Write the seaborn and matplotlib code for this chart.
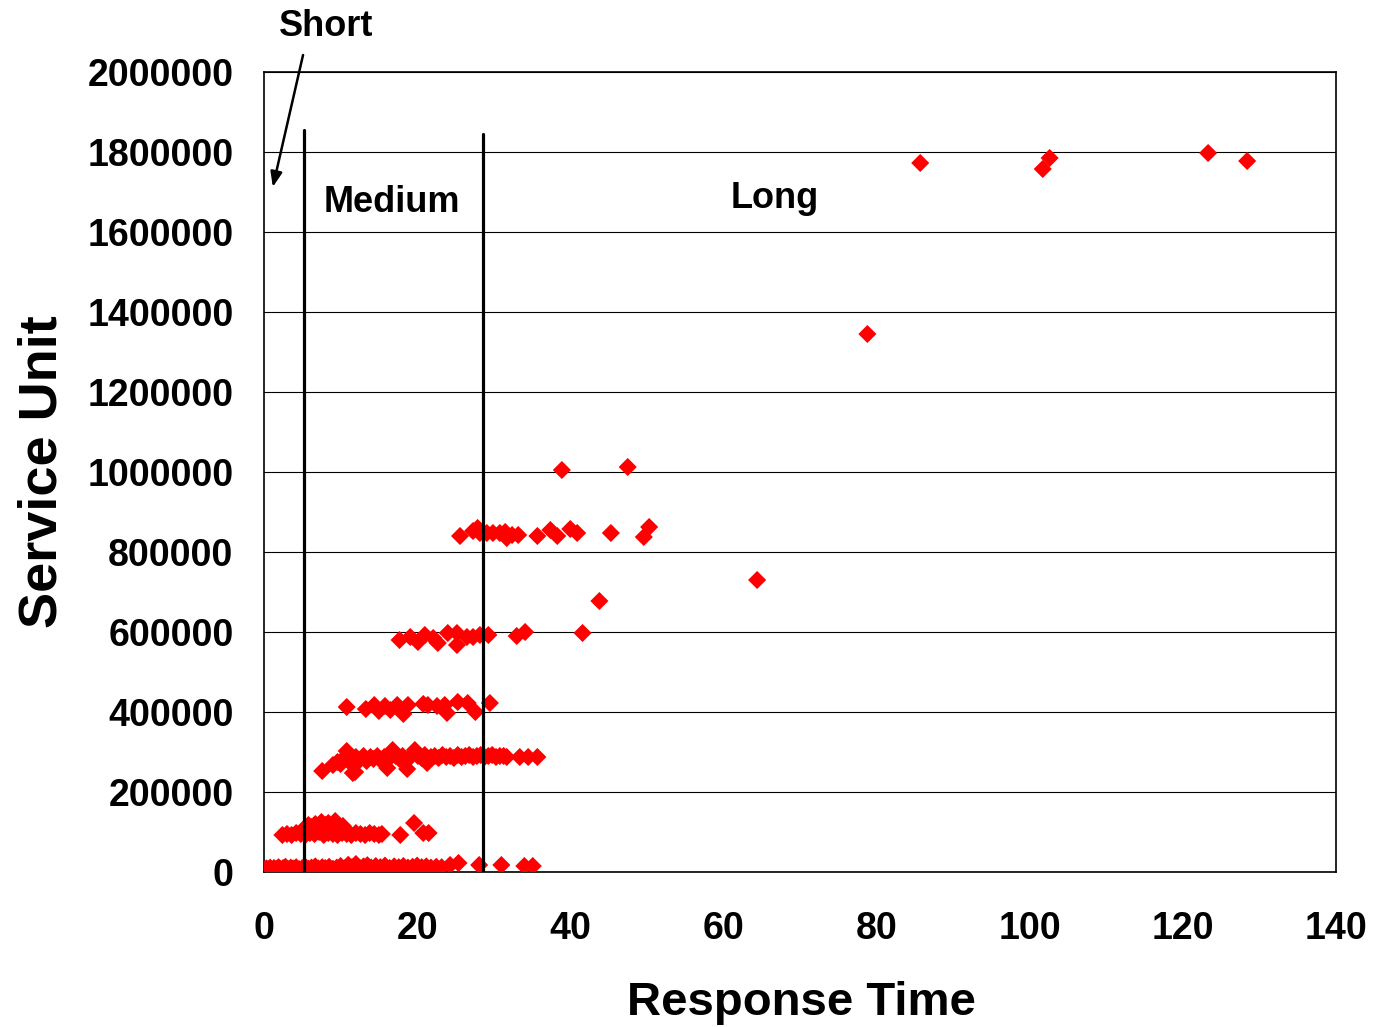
import matplotlib
matplotlib.use("Agg")
import matplotlib.pyplot as plt
import seaborn as sns
import pandas as pd

# ---------------- data ----------------
# band near zero service units
short_x = [0.0, 0.1, 0.2, 0.3, 0.5, 0.8, 1.0, 1.3, 1.6, 1.9, 2.2, 2.5, 2.8, 3.1, 3.5, 3.8,
           4.2, 4.6, 5.0, 5.4, 5.8, 6.2, 6.7, 7.1, 7.6, 8.0, 8.5, 9.0, 9.5, 10.0, 10.5,
           11.0, 11.5, 12.0, 12.5, 13.0, 13.5, 14.0, 14.6, 15.2, 15.8, 16.4, 17.0, 17.6,
           18.2, 18.8, 19.4, 20.0, 20.6, 21.2, 21.8, 22.5, 23.2, 24.3, 25.4, 28.1, 31.0,
           34.0, 35.1]
short_y = [2000, 6000, 4000, 9000, 7000, 11000, 6000, 10000, 8000, 12000, 7000, 10000,
           13000, 8000, 11000, 9000, 12000, 7000, 10000, 13000, 8000, 11000, 14000, 9000,
           12000, 10000, 13000, 8000, 11000, 15000, 9000, 18000, 12000, 20000, 10000,
           14000, 17000, 11000, 15000, 12000, 16000, 10000, 14000, 12000, 15000, 11000,
           13000, 16000, 12000, 14000, 11000, 13000, 12000, 17500, 22500, 17500, 17500,
           15000, 15000]

# band near 100000
mid_x = [2.4, 3.0, 3.6, 4.2, 4.8, 5.4, 6.0, 6.6, 7.2, 7.8, 8.4, 9.0, 9.6, 10.2, 10.8,
         11.4, 12.0, 12.6, 13.2, 13.8, 14.4, 15.0, 15.4,
         5.3, 5.8, 6.2, 6.7, 7.1, 7.5, 8.0, 8.4, 8.9, 9.3, 9.8, 10.3,
         17.8, 19.6, 20.8, 21.5]
mid_y = [92500, 95000, 92500, 97500, 95000, 92500, 97500, 95000, 100000, 92500, 97500,
         95000, 92500, 97500, 95000, 92500, 97500, 95000, 92500, 97500, 95000, 92500, 95000,
         110000, 117500, 112500, 120000, 115000, 125000, 117500, 122500, 112500, 127500,
         107500, 115000,
         92500, 122500, 97500, 97500]

# band near 285000
b3_x = [7.6, 9.0, 9.6, 10.0, 10.2, 10.8, 10.8, 11.3, 11.6, 11.9, 12.0, 12.5, 13.0, 13.4,
        13.9, 14.3, 14.8, 15.2, 15.7, 16.1, 16.4, 16.8, 17.2, 17.7, 18.1, 18.7, 19.0,
        19.7, 20.1, 20.6, 21.0, 21.3, 21.8, 22.3, 22.8, 23.3, 23.8, 24.3, 24.8, 25.3,
        25.8, 26.3, 26.8, 27.3, 27.8, 28.3, 28.8, 29.3, 29.8, 30.3, 30.8, 31.3, 31.7,
        33.4, 34.5, 35.7]
b3_y = [252500, 267500, 275000, 270000, 280000, 302500, 285000, 272500, 247500, 250000,
        287500, 280000, 290000, 277500, 287500, 282500, 290000, 280000, 287500, 260000,
        285000, 305000, 290000, 282500, 290000, 257500, 285000, 305000, 290000, 285000,
        292500, 272500, 287500, 290000, 285000, 292500, 287500, 290000, 285000, 292500,
        287500, 290000, 292500, 287500, 290000, 292500, 287500, 290000, 292500, 287500,
        290000, 290000, 287500, 287500, 287500, 287500]

# band near 410000
b4_x = [10.8, 13.3, 14.4, 15.0, 15.8, 16.5, 17.4, 18.2, 18.8, 20.8, 21.4, 22.6, 23.6,
        23.9, 25.3, 26.6, 27.6, 29.5]
b4_y = [412500, 407500, 417500, 402500, 415000, 405000, 417500, 395000, 417500, 420000,
        417500, 415000, 417500, 397500, 425000, 422500, 400000, 422500]

# band near 590000
b5_x = [17.7, 19.1, 20.1, 21.0, 22.1, 22.7, 24.0, 25.2, 25.2, 26.5, 27.3, 28.2, 29.3,
        33.0, 34.1, 41.6]
b5_y = [580000, 587500, 575000, 592500, 585000, 572500, 597500, 567500, 597500, 587500,
        587500, 592500, 592500, 590000, 600000, 597500]

# band near 850000
b6_x = [25.6, 27.3, 27.9, 28.2, 29.1, 29.9, 30.8, 31.5, 31.7, 32.4, 33.2, 35.7, 37.4,
        38.3, 40.0, 40.9, 45.3, 49.6, 50.3]
b6_y = [840000, 852500, 860000, 847500, 847500, 847500, 847500, 850000, 835000, 842500,
        842500, 840000, 855000, 840000, 857500, 847500, 847500, 837500, 862500]

# scattered long jobs
long_x = [38.9, 47.5, 43.8, 64.4, 78.8, 85.7, 101.7, 102.6, 123.3, 128.4]
long_y = [1005000, 1012500, 677500, 730000, 1345000, 1772500, 1757500, 1785000,
          1797500, 1777500]

# class boundaries and labels
short_boundary = 5.2
medium_boundary = 28.6
xticks = [0, 20, 40, 60, 80, 100, 120, 140]
yticks = [0, 200000, 400000, 600000, 800000, 1000000, 1200000, 1400000,
          1600000, 1800000, 2000000]
ytick_labels = ["0", "200000", "400000", "600000", "800000", "1000000", "1200000",
                "1400000", "1600000", "1800000", "2000000"]

# ---------------- plot ----------------
sns.set_style("white")
plt.rcParams["font.family"] = ["Liberation Sans", "DejaVu Sans"]
plt.rcParams["font.weight"] = "bold"
plt.rcParams["text.color"] = "black"

df = pd.DataFrame({
    "Response Time": short_x + mid_x + b3_x + b4_x + b5_x + b6_x + long_x,
    "Service Unit": short_y + mid_y + b3_y + b4_y + b5_y + b6_y + long_y,
})

fig = plt.figure(figsize=(13.74, 10.27), dpi=100)
ax = fig.add_axes([264 / 1374, 1 - 872 / 1027, 1072 / 1374, 800 / 1027])

sns.scatterplot(data=df, x="Response Time", y="Service Unit", marker="D", s=85,
                color="#ff0000", edgecolor="none", linewidth=0, ax=ax, zorder=3)

ax.set_xlim(0, 140)
ax.set_ylim(0, 2000000)
ax.set_xticks(xticks)
ax.set_xticklabels([str(v) for v in xticks])
ax.set_yticks(yticks)
ax.set_yticklabels(ytick_labels)
ax.tick_params(axis="both", direction="out", length=8, width=1.0, color="black",
               labelsize=27, labelcolor="black")
ax.tick_params(axis="x", pad=20)
ax.tick_params(axis="y", pad=14)
for lab in ax.get_xticklabels() + ax.get_yticklabels():
    lab.set_fontweight("bold")

ax.grid(axis="y", color="black", linewidth=0.8)
ax.grid(axis="x", visible=False)
for sp in ax.spines.values():
    sp.set_visible(True)
    sp.set_color("black")
    sp.set_linewidth(1.2)

ax.set_xlabel("")
ax.set_ylabel("")

# class boundaries
ax.plot([short_boundary, short_boundary], [0, 1855000], color="black", lw=2.3, zorder=4)
ax.plot([medium_boundary, medium_boundary], [0, 1845000], color="black", lw=2.3, zorder=4)

# annotations
ax.annotate("", xy=(1.15, 1712500), xytext=(5.1, 2042500),
            arrowprops=dict(arrowstyle="-|>,head_length=0.9,head_width=0.35",
                            color="black", lw=1.8, shrinkA=0, shrinkB=0),
            annotation_clip=False)
ax.text(8.1, 2115000, "Short", fontsize=26, fontweight="bold", ha="center",
        va="center", clip_on=False, color="black")
ax.text(16.7, 1675000, "Medium", fontsize=26, fontweight="bold", ha="center",
        va="center", color="black")
ax.text(66.7, 1682500, "Long", fontsize=26, fontweight="bold", ha="center",
        va="center", color="black")

fig.text(801 / 1374, 1 - 1015 / 1027, "Response Time", fontsize=34, fontweight="bold",
         ha="center", va="baseline", color="black")
fig.text(57 / 1374, 1 - 472 / 1027, "Service Unit", fontsize=39, fontweight="bold",
         ha="center", va="baseline", rotation=90, rotation_mode="anchor", color="black")

fig.savefig("out.png", dpi=100)
